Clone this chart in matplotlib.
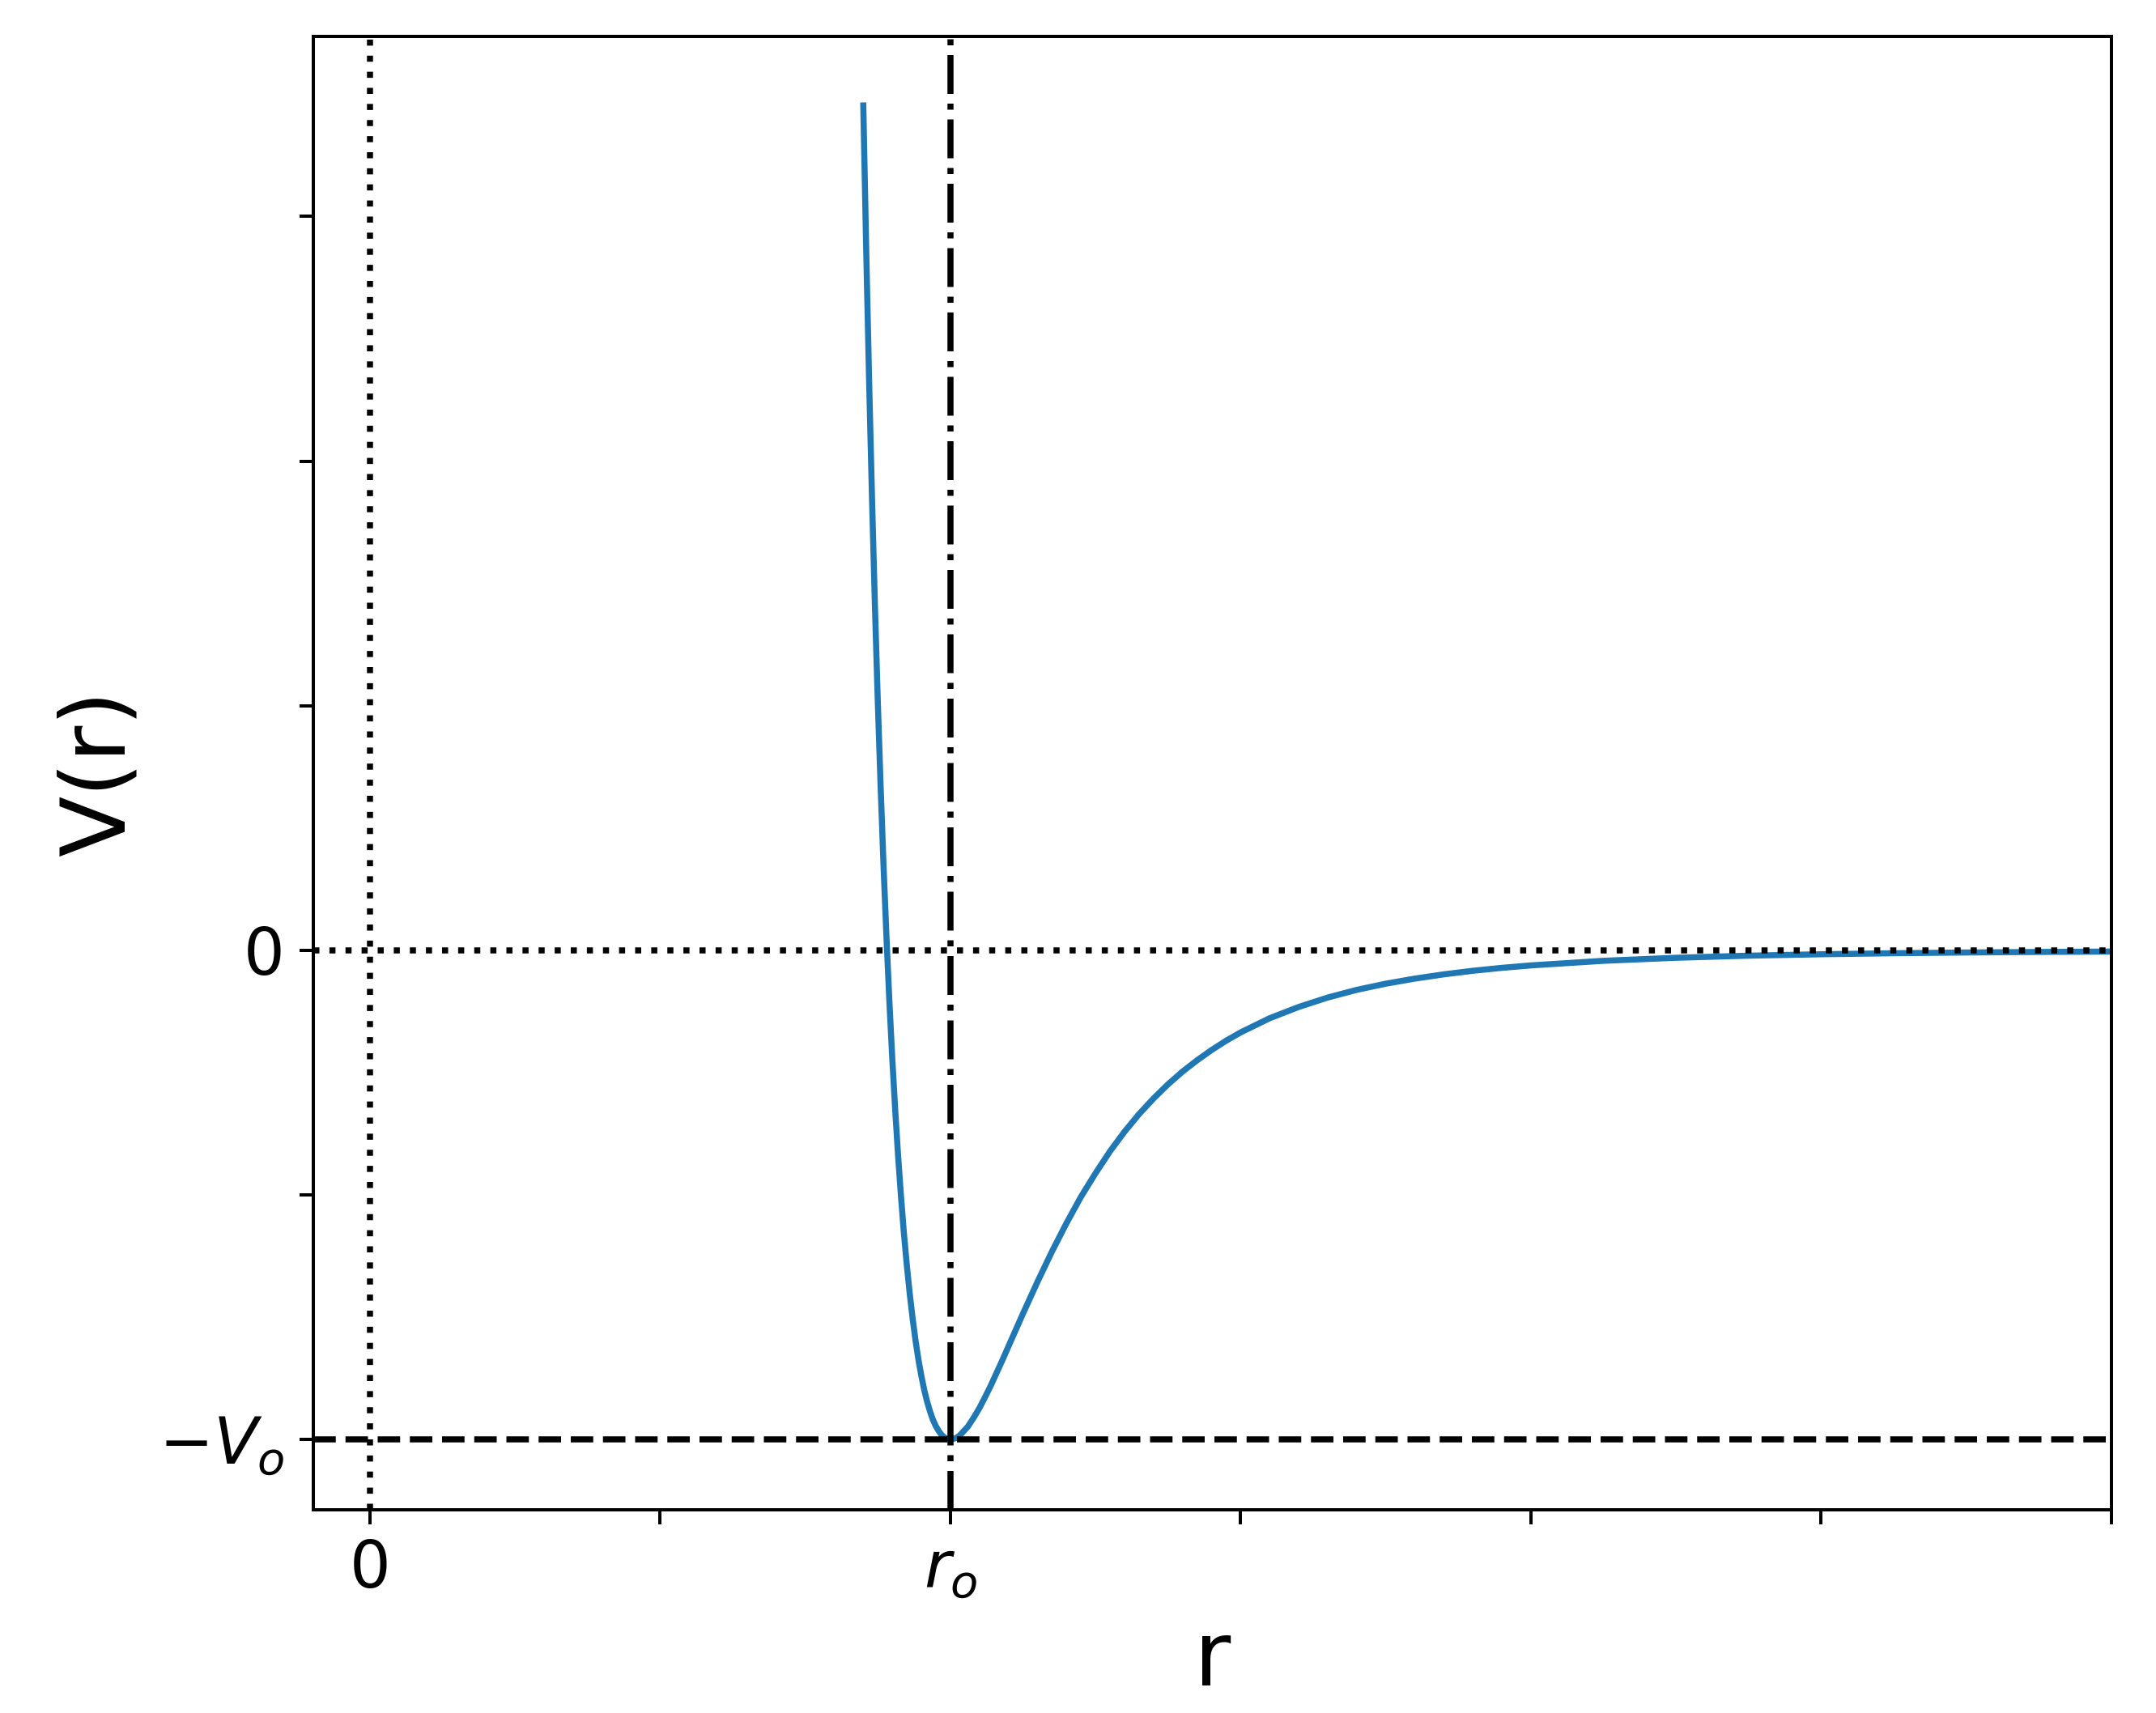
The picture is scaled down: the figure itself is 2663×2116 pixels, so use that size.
import matplotlib
matplotlib.use("Agg")
import matplotlib.pyplot as plt

# potential curve (r in units where r_o = 2, V in units of V_o)
r_vals = [1.70, 1.71, 1.72, 1.73, 1.74, 1.75, 1.76, 1.77, 1.78, 1.79,
          1.80, 1.81, 1.82, 1.83, 1.84, 1.85, 1.86, 1.87, 1.88, 1.89,
          1.90, 1.91, 1.92, 1.93, 1.94, 1.95, 1.96, 1.97, 1.98, 1.99,
          2.00, 2.01, 2.02, 2.03, 2.04, 2.06, 2.08, 2.10, 2.12, 2.14,
          2.16, 2.18, 2.20, 2.25, 2.30, 2.35, 2.40, 2.45, 2.50, 2.55,
          2.60, 2.65, 2.70, 2.75, 2.80, 2.85, 2.90, 2.95, 3.00, 3.10,
          3.20, 3.30, 3.40, 3.50, 3.60, 3.70, 3.80, 3.90, 4.00, 4.25,
          4.50, 4.75, 5.00, 5.25, 5.50, 5.75, 6.00]
v_vals = [1.727, 1.433, 1.166, 0.925, 0.706, 0.508, 0.330, 0.169, 0.025, -0.106,
          -0.223, -0.327, -0.421, -0.504, -0.579, -0.644, -0.702, -0.753, -0.798, -0.837,
          -0.870, -0.899, -0.923, -0.943, -0.960, -0.973, -0.983, -0.991, -0.996, -0.999,
          -1.000, -0.999, -0.997, -0.993, -0.987, -0.974, -0.956, -0.936, -0.913, -0.889,
          -0.863, -0.837, -0.810, -0.743, -0.678, -0.616, -0.558, -0.504, -0.456, -0.411,
          -0.371, -0.335, -0.303, -0.274, -0.248, -0.225, -0.204, -0.185, -0.168, -0.139,
          -0.116, -0.0967, -0.081, -0.0684, -0.058, -0.0493, -0.042, -0.036, -0.031, -0.0216,
          -0.0154, -0.0111, -0.0082, -0.0061, -0.0046, -0.0035, -0.0027]

r0 = 2.0
v0 = 1.0

x_ticks = [0, 1, 2, 3, 4, 5, 6]
x_labels = ['0', '', '$r_o$', '', '', '', '']
y_ticks = [-1.0, -0.5, 0.0, 0.5, 1.0, 1.5]
y_labels = ['$-V_o$', '', '0', '', '', '']

fig = plt.figure(figsize=(2663 / 360, 2116 / 360), dpi=360)
ax = fig.add_axes([0.1453, 0.1186, 0.834, 0.8601])

ax.plot(r_vals, v_vals, color='C0', lw=1.5)
ax.axvline(0, color='k', ls=':')
ax.axhline(0, color='k', ls=':')
ax.axhline(-v0, color='k', ls='--')
ax.axvline(r0, color='k', ls='-.')

ax.set_xlim(-0.195, 6)
ax.set_ylim(-1.144, 1.868)
ax.set_xticks(x_ticks)
ax.set_xticklabels(x_labels)
ax.set_yticks(y_ticks)
ax.set_yticklabels(y_labels)
ax.tick_params(labelsize=16)

ax.set_xlabel('r', fontsize=22)
ax.set_ylabel('V(r)', fontsize=22)

fig.savefig('out.png', dpi=360)
